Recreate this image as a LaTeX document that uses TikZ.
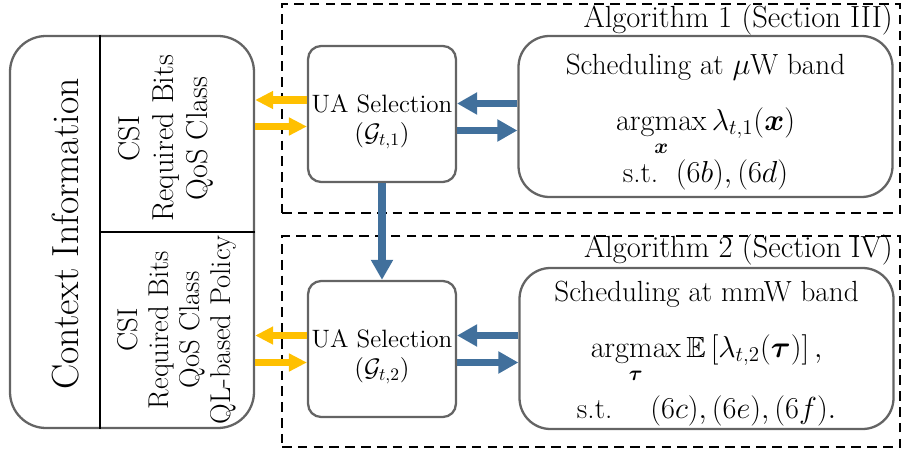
\documentclass[tikz,border=0pt]{standalone}
\usepackage{amsmath,amssymb}
\usepackage{bm}
\usepackage{tikz}
\usepackage{xcolor}
\usetikzlibrary{arrows.meta,positioning,calc}
\definecolor{boxgray}{HTML}{646464}
\definecolor{uablue}{HTML}{41709C}
\definecolor{uayellow}{HTML}{FFC000}
\tikzset{
  ctxbox/.style={draw=boxgray,fill=white,line width=1.3pt,rounded corners=0.72cm,
                 minimum width=4.88cm,minimum height=7.84cm,inner sep=0pt},
  uabox/.style={draw=boxgray,fill=white,line width=1.3pt,rounded corners=0.26cm,
                minimum width=2.94cm,minimum height=2.72cm,align=center,
                font=\fontsize{14.3}{16.5}\selectfont,inner sep=2pt},
  schedbox/.style={draw=boxgray,fill=white,line width=1.3pt,rounded corners=0.62cm,
                   minimum width=7.48cm,minimum height=3.22cm,inner sep=0pt},
  schedtext/.style={align=center,font=\fontsize{16.6}{20}\selectfont,inner sep=0pt},
  algbox/.style={draw=black,line width=0.6pt,dash pattern=on 5.5pt off 3.5pt,
                 inner sep=0pt},
  alglabel/.style={font=\fontsize{17.4}{20}\selectfont,inner sep=0pt,anchor=east},
  infotext/.style={rotate=90,align=center,inner sep=0pt},
  divider/.style={draw=black,line width=1pt},
  yarr/.style={-{Triangle[length=0.36cm,width=0.34cm]},line width=4pt,color=uayellow},
  barr/.style={-{Triangle[length=0.4cm,width=0.42cm]},line width=4.4pt,color=uablue}
}
\newcommand{\toppad}[1]{\rule{0pt}{#1}}

\begin{document}
\begin{tikzpicture}
  \useasboundingbox (0,0) rectangle (18.04,-9.04);

  % dashed algorithm frames
  \node[algbox,minimum width=12.36cm,minimum height=4.18cm] (alg1) at (11.82,-2.17) {};
  \node[algbox,minimum width=12.36cm,minimum height=4.22cm] (alg2) at (11.82,-6.83) {};
  \node[alglabel] (alg1lab) at (17.86,-0.40) {Algorithm 1 (Section III)};
  \node[alglabel] (alg2lab) at (17.86,-5.00) {Algorithm 2 (Section IV)};

  % context information
  \node[ctxbox] (ctx) at (2.64,-4.64) {};
  \coordinate (split) at (2.0,-4.64);
  \draw[divider] (split |- ctx.north) -- (split |- ctx.south);
  \draw[divider] (split) -- (split -| ctx.east);
  \node[infotext,font=\fontsize{21.5}{26}\selectfont] (ctxlab) at (1.32,-4.68) {Context Information};
  \node[infotext,font=\fontsize{17.2}{19.3}\selectfont] (info1) at (3.32,-2.77)
    {CSI\\Required Bits\\QoS Class};
  \node[infotext,font=\fontsize{16.3}{17.6}\selectfont] (info2) at (3.54,-6.6)
    {CSI\\Required Bits\\QoS Class\\QL-based Policy};

  % user association and scheduling
  \node[uabox] (ua1) at (7.64,-2.28) {\toppad{19pt}UA Selection\\$(\mathcal{G}_{t,1})$};
  \node[uabox] (ua2) at (7.64,-6.98) {\toppad{19pt}UA Selection\\$(\mathcal{G}_{t,2})$};
  \node[schedbox] (sch1) at (14.11,-2.33) {};
  \node[schedtext] (sch1txt) at ([yshift=-0.12cm]sch1.center)
    {Scheduling at $\mu$W band\\[11.5pt]
     $\displaystyle\operatorname*{argmax}_{\bm{x}}\lambda_{t,1}(\bm{x})$\\[1pt]
     s.t.~~$(6b),(6d)$};
  \node[schedbox] (sch2) at (14.13,-6.97) {};
  \node[schedtext] (sch2txt) at ([yshift=-0.1cm]sch2.center)
    {Scheduling at mmW band\\[12pt]
     $\displaystyle\operatorname*{argmax}_{\bm{\tau}}\mathbb{E}\left[\lambda_{t,2}(\bm{\tau})\right],$\\[6pt]
     s.t.\quad\ $(6c),(6e),(6f).$};

  \draw[yarr] ([yshift=0.28cm]ua1.west) -- ([yshift=0.28cm]ua1.west -| ctx.east);
  \draw[yarr] ([yshift=-0.25cm]ua1.west -| ctx.east) -- ([yshift=-0.25cm]ua1.west);
  \draw[yarr] ([yshift=0.27cm]ua2.west) -- ([yshift=0.27cm]ua2.west -| ctx.east);
  \draw[yarr] ([yshift=-0.27cm]ua2.west -| ctx.east) -- ([yshift=-0.27cm]ua2.west);

  \draw[barr] ([yshift=0.26cm]sch1.west -| sch1.west) -- ([yshift=0.26cm]sch1.west -| ua1.east);
  \draw[barr] ([yshift=-0.28cm]sch1.west -| ua1.east) -- ([yshift=-0.28cm]sch1.west);
  \draw[barr] ([yshift=0.27cm]ua2.east -| sch2.west) -- ([yshift=0.27cm]ua2.east);
  \draw[barr] ([yshift=-0.27cm]ua2.east) -- ([yshift=-0.27cm]ua2.east -| sch2.west);
  \draw[barr] (ua1) -- (ua2);
\end{tikzpicture}
\end{document}
